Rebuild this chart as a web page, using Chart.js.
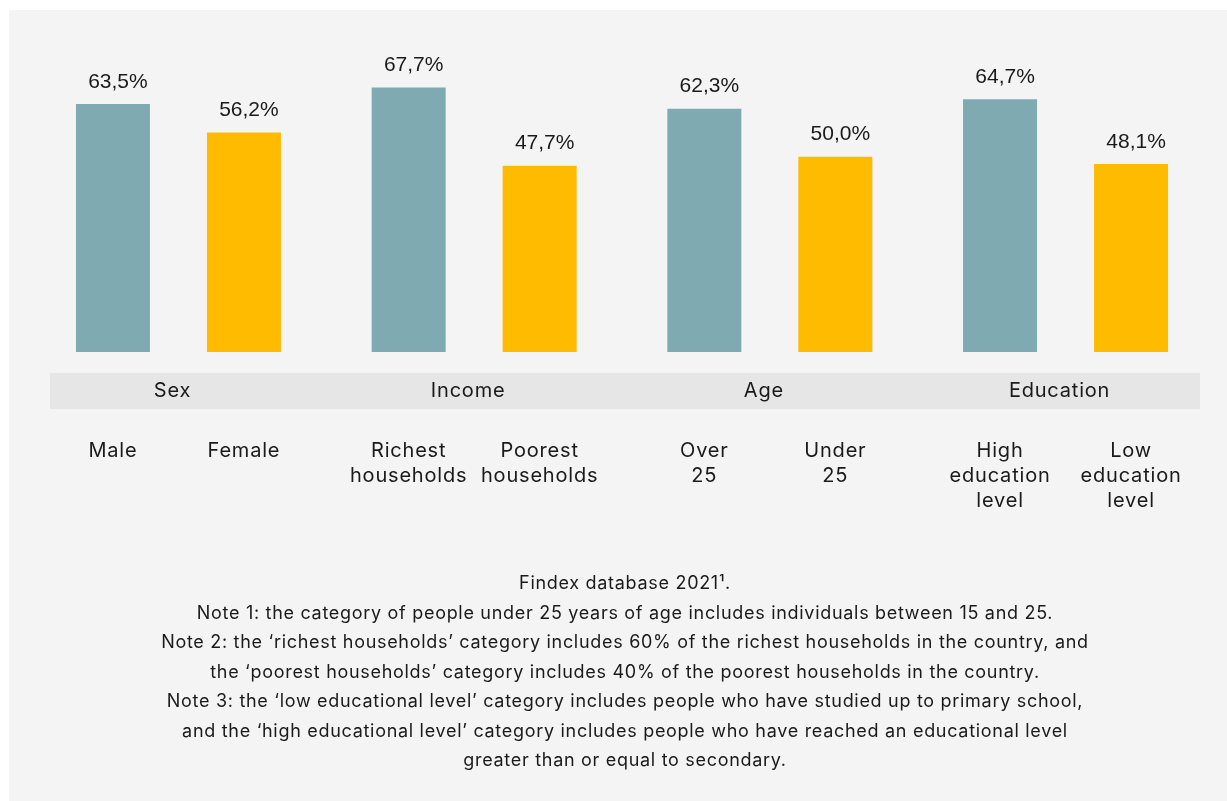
<!DOCTYPE html>
<html>
<head>
<meta charset="utf-8">
<script src="https://cdn.jsdelivr.net/npm/chart.js@4"></script>
<style>
  body { margin: 0; background: #ffffff; }
  #panel { position: absolute; left: 9px; top: 10px; width: 1218px; height: 791px; background: #f4f4f4; }
</style>
</head>
<body>
<div id="panel"><canvas id="chart" width="1218" height="791"></canvas></div>
<script>
// ===== Data =====
const groups = ["Sex", "Income", "Age", "Education"];
const firstLabels = [["Male"], ["Richest", "households"], ["Over", "25"], ["High", "education", "level"]];
const secondLabels = [["Female"], ["Poorest", "households"], ["Under", "25"], ["Low", "education", "level"]];
const firstValues = [63.5, 67.7, 62.3, 64.7];
const secondValues = [56.2, 47.7, 50.0, 48.1];
const notes = [
  "Findex database 2021\u00B9.",
  "Note 1: the category of people under 25 years of age includes individuals between 15 and 25.",
  "Note 2: the \u2018richest households\u2019 category includes 60% of the richest households in the country, and",
  "the \u2018poorest households\u2019 category includes 40% of the poorest households in the country.",
  "Note 3: the \u2018low educational level\u2019 category includes people who have studied up to primary school,",
  "and the \u2018high educational level\u2019 category includes people who have reached an educational level",
  "greater than or equal to secondary."
];

const TEAL = "#80aab2";
const YELLOW = "#ffbb00";
const TEXT = "#1a1a1a";
const LABEL_FONT = "Inter, 'Noto Sans', sans-serif";

const fmt = (v) => v.toFixed(1).replace(".", ",") + "%";

// draws value labels, group band, category labels and notes
const annotate = {
  id: "annotate",
  afterDraw(chart) {
    const ctx = chart.ctx;
    const area = chart.chartArea;
    const xScale = chart.scales.x;
    ctx.save();
    ctx.fillStyle = TEXT;
    ctx.textAlign = "center";
    ctx.textBaseline = "middle";

    // values above bars
    ctx.font = "21px 'Liberation Sans', Arial, sans-serif";
    chart.data.datasets.forEach((ds, di) => {
      chart.getDatasetMeta(di).data.forEach((bar, i) => {
        ctx.fillText(fmt(ds.data[i]), bar.x + 5, bar.y - 22);
      });
    });

    // group band
    ctx.fillStyle = "#e6e6e6";
    ctx.fillRect(41, area.bottom + 21, 1150, 36);
    ctx.fillStyle = TEXT;
    ctx.letterSpacing = "0.8px";
    ctx.font = "20px " + LABEL_FONT;
    groups.forEach((g, i) => {
      ctx.fillText(g, xScale.getPixelForValue(i) - 6, area.bottom + 39);
    });

    // category labels under the band
    const subLabels = [firstLabels, secondLabels];
    chart.data.datasets.forEach((ds, di) => {
      chart.getDatasetMeta(di).data.forEach((bar, i) => {
        subLabels[di][i].forEach((line, li) => {
          ctx.fillText(line, bar.x, area.bottom + 99 + li * 25);
        });
      });
    });

    // notes
    ctx.letterSpacing = "0.7px";
    ctx.font = "18px " + LABEL_FONT;
    const cx = (area.left + area.right) / 2 + 3;
    notes.forEach((line, li) => {
      ctx.fillText(line, cx, 574 + li * 29.5);
    });
    ctx.restore();
  }
};

new Chart(document.getElementById("chart"), {
  type: "bar",
  data: {
    labels: groups,
    datasets: [
      { data: firstValues, backgroundColor: TEAL },
      { data: secondValues, backgroundColor: YELLOW }
    ]
  },
  options: {
    responsive: false,
    animation: false,
    categoryPercentage: 0.886,
    barPercentage: 0.565,
    layout: { padding: { left: 21.6, right: 13.6, top: 29.5, bottom: 449 } },
    plugins: { legend: { display: false }, tooltip: { enabled: false } },
    scales: {
      x: { display: false },
      y: { display: false, min: 0, max: 80 }
    }
  },
  plugins: [annotate]
});
</script>
</body>
</html>
